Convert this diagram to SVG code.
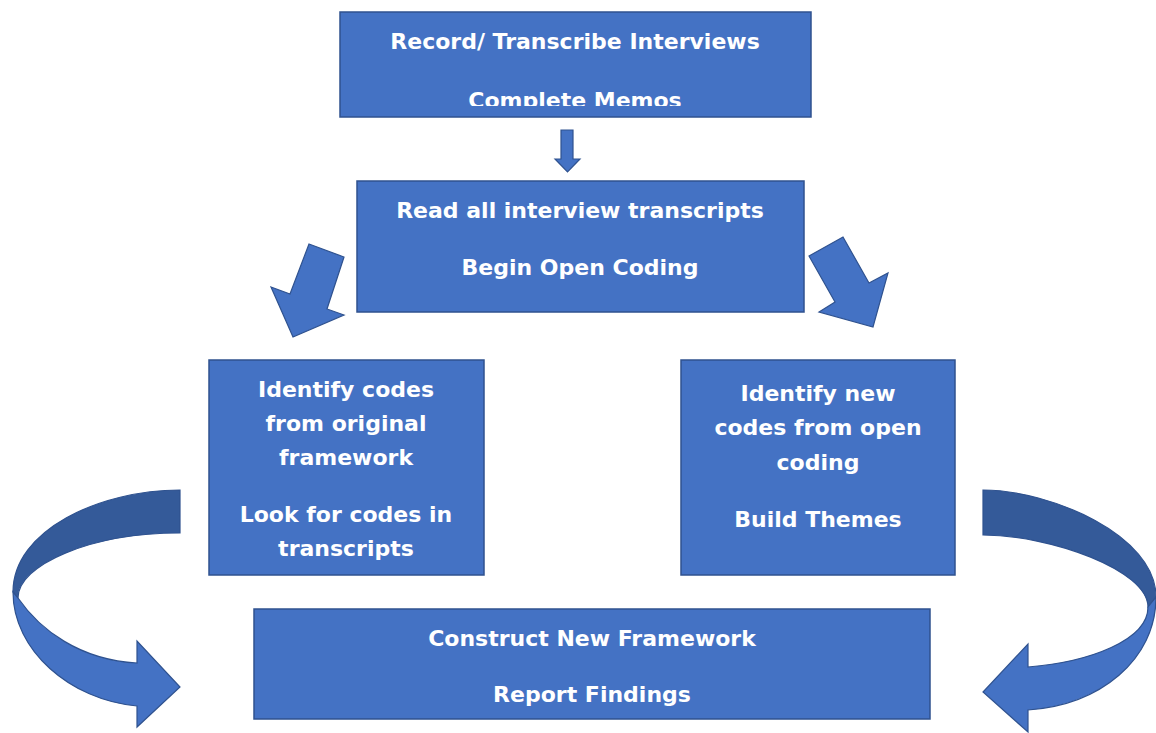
<svg xmlns="http://www.w3.org/2000/svg" width="1156" height="733" viewBox="0 0 1156 733">
<style>
.box{fill:#4472C4;stroke:#2F528F;stroke-width:1.5}
.arr{fill:#4472C4;stroke:#2F528F;stroke-width:1.2;stroke-linejoin:miter}
.dark{fill:#345A99;stroke:#2F528F;stroke-width:1.2}
.t{font-family:"DejaVu Sans",Verdana,sans-serif;font-weight:bold;font-size:22px;fill:#FFFFFF;text-anchor:middle}
</style>
<defs>
<clipPath id="c1"><rect x="340" y="12" width="471" height="94"/></clipPath>
</defs>
<rect width="1156" height="733" fill="#FFFFFF"/>
<g id="connectors">
<path class="arr" d="M561,130 H573 V159 H580 L567.5,172 L555,159 H561 Z"/>
<polygon class="arr" points="309,244 344,257 327,309 344,315 293,337 271,287 290,294"/>
<polygon class="arr" points="809,256 843,237 869,283 888,273 873,327 819,312 835,302"/>
<path class="dark" d="M180,490 C100,490 13,530 13,592 L18,598 C18,565 90,533 180,533 Z"/>
<path class="arr" d="M13,592 C13,650 70,700 137,706 L137,727 L180,687 L137,641 L137,663 C80,660 40,630 18,598 Z"/>
<path class="dark" d="M983,490 C1050,490 1156,535 1156,597 L1148,607 C1148,570 1050,535 983,535 Z"/>
<path class="arr" d="M1156,597 C1156,660 1100,705 1028,710 L1028,732 L983,692 L1028,644 L1028,667 C1090,662 1148,640 1148,607 Z"/>
</g>
<g id="node1">
<rect class="box" x="340" y="12" width="471" height="105"/>
<text class="t" x="575" y="49">Record/ Transcribe Interviews</text>
<text class="t" x="575" y="108" clip-path="url(#c1)">Complete Memos</text>
</g>
<g id="node2">
<rect class="box" x="357" y="181" width="447" height="131"/>
<text class="t" x="580" y="218">Read all interview transcripts</text>
<text class="t" x="580" y="275">Begin Open Coding</text>
</g>
<g id="node3">
<rect class="box" x="209" y="360" width="275" height="215"/>
<text class="t" x="346" y="397">Identify codes</text>
<text class="t" x="346" y="431">from original</text>
<text class="t" x="346" y="465">framework</text>
<text class="t" x="346" y="522">Look for codes in</text>
<text class="t" x="346" y="556">transcripts</text>
</g>
<g id="node4">
<rect class="box" x="681" y="360" width="274" height="215"/>
<text class="t" x="818" y="401">Identify new</text>
<text class="t" x="818" y="435">codes from open</text>
<text class="t" x="818" y="470">coding</text>
<text class="t" x="818" y="527">Build Themes</text>
</g>
<g id="node5">
<rect class="box" x="254" y="609" width="676" height="110"/>
<text class="t" x="592" y="646">Construct New Framework</text>
<text class="t" x="592" y="702">Report Findings</text>
</g>
</svg>
